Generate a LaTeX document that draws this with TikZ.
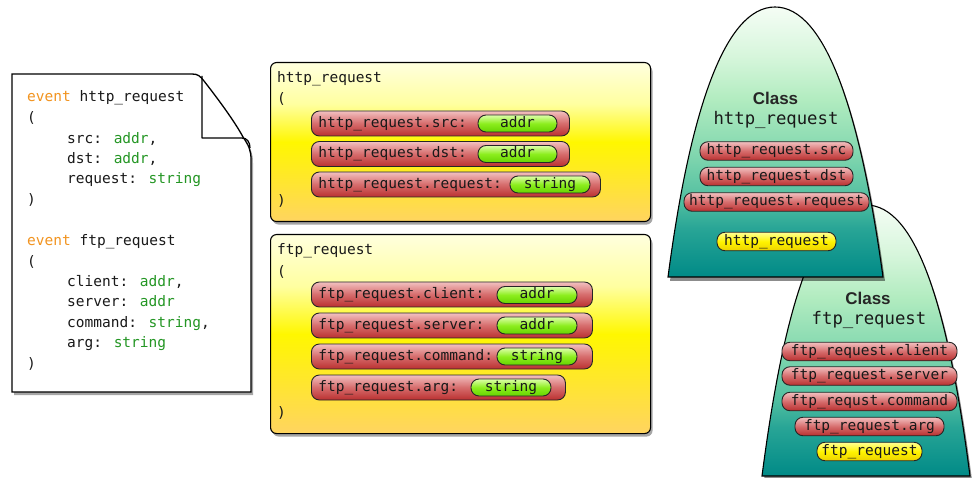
\documentclass[tikz,border=0pt]{standalone}
\usepackage{fontspec}
\setmainfont{Liberation Sans}
\newfontfamily\codefont{DejaVu Sans Mono}
\usetikzlibrary{shadows}

\definecolor{kwcol}{RGB}{242,148,32}
\definecolor{tycol}{RGB}{36,150,36}
\definecolor{inkcol}{RGB}{25,25,25}
% yellow event boxes
\definecolor{ybot}{RGB}{255,212,96}
\definecolor{ymid}{RGB}{255,247,0}
\definecolor{yhi}{RGB}{255,255,160}
\definecolor{ytop}{RGB}{255,255,222}
% red attribute pills
\definecolor{rbot}{RGB}{186,48,48}
\definecolor{rmid}{RGB}{214,108,108}
\definecolor{rtop}{RGB}{242,192,192}
% green type pills
\definecolor{gbot}{RGB}{102,212,0}
\definecolor{gmid}{RGB}{140,238,30}
\definecolor{gtop}{RGB}{222,255,170}
% small yellow pills
\definecolor{sybot}{RGB}{236,210,0}
\definecolor{symid}{RGB}{255,244,0}
\definecolor{sytop}{RGB}{255,255,150}
% class domes
\definecolor{dbot}{RGB}{0,138,135}
\definecolor{dlow1}{RGB}{40,165,150}
\definecolor{dlow2}{RGB}{80,190,160}
\definecolor{dmid1}{RGB}{130,215,175}
\definecolor{dmid2}{RGB}{178,236,192}
\definecolor{dhi}{RGB}{215,246,220}
\definecolor{dtop}{RGB}{245,253,245}

\pgfdeclareverticalshading{yellowbox}{100bp}{color(0bp)=(ybot); color(25bp)=(ybot); color(50bp)=(ymid); color(62bp)=(yhi); color(75bp)=(ytop); color(100bp)=(ytop)}
\pgfdeclareverticalshading{redpill}{100bp}{color(0bp)=(rbot); color(25bp)=(rbot); color(50bp)=(rmid); color(75bp)=(rtop); color(100bp)=(rtop)}
\pgfdeclareverticalshading{greenpill}{100bp}{color(0bp)=(gbot); color(25bp)=(gbot); color(50bp)=(gmid); color(75bp)=(gtop); color(100bp)=(gtop)}
\pgfdeclareverticalshading{yellowpill}{100bp}{color(0bp)=(sybot); color(25bp)=(sybot); color(50bp)=(symid); color(75bp)=(sytop); color(100bp)=(sytop)}
\pgfdeclareverticalshading{dome}{100bp}{color(0bp)=(dbot); color(25bp)=(dbot); color(34bp)=(dlow1); color(39bp)=(dlow2); color(48bp)=(dmid1); color(58bp)=(dmid2); color(66bp)=(dhi); color(75bp)=(dtop); color(100bp)=(dtop)}

\newcommand\evkw[1]{\textcolor{kwcol}{#1}}
\newcommand\tyname[1]{\textcolor{tycol}{#1}}

\tikzset{
  softshadow/.style={drop shadow={shadow xshift=2pt, shadow yshift=-3pt, fill=black, opacity=0.35}},
  code/.style={font=\codefont\fontsize{14.5}{17}\selectfont, text=inkcol, inner sep=0pt,
    anchor=west, text height=11pt, text depth=3.5pt},
  ybox/.style={draw=black, line width=1.1pt, rounded corners=6pt, shade, shading=yellowbox,
    softshadow, anchor=north west},
  redpill/.style={code, draw=black!85, line width=0.9pt, rounded corners=8pt, shade, shading=redpill,
    minimum height=25pt, inner xsep=7pt, inner ysep=0pt, align=left},
  greenpill/.style={code, anchor=center, draw=black!85, line width=0.9pt, rounded corners=8pt,
    shade, shading=greenpill, minimum height=17pt, inner sep=0pt},
  cpill/.style={code, anchor=center, draw=black!85, line width=0.9pt, rounded corners=8pt,
    shade, shading=redpill, minimum height=18.5pt, inner xsep=2pt, inner ysep=0pt,
    text height=10.5pt, text depth=3pt},
  ypill/.style={cpill, shading=yellowpill},
  classkw/.style={font=\bfseries\fontsize{17}{20}\selectfont, text=black!85, inner sep=0pt},
  classname/.style={font=\codefont\fontsize{17.3}{20}\selectfont, text=inkcol, inner sep=0pt},
  domeshape/.style={draw=black, line width=1.1pt, shade, shading=dome,
    drop shadow={shadow xshift=2pt, shadow yshift=-4pt, fill=black, opacity=0.45}},
}

\begin{document}
\begin{tikzpicture}[x=1pt, y=-1pt]
\useasboundingbox (0,0) rectangle (972,478);

% ---------- source file with a folded corner ----------
\path[fill=white, draw=black, line width=1.3pt, softshadow]
  (12,74) -- (192,74) .. controls (198,74) and (200,76) .. (204,81)
  .. controls (222,104) and (236,124) .. (243,137)
  .. controls (249,146) and (251,150) .. (251,160)
  -- (251,392) -- (12,392) -- cycle;
\draw[line width=1.3pt, line join=round]
  (202,76) -- (202,138) -- (242,138) .. controls (247,138) and (250,142) .. (250,148);

\foreach \x/\y/\t [count=\n] in {
  27/98/{\evkw{event} http\_request},
  27/119/{(},
  67/139.5/{src: \tyname{addr},},
  67/159.5/{dst: \tyname{addr},},
  67/180/{request: \tyname{string}},
  27/200.5/{)},
  27/242/{\evkw{event} ftp\_request},
  27/262.5/{(},
  67/283/{client: \tyname{addr},},
  67/303/{server: \tyname{addr}},
  67/323.5/{command: \tyname{string},},
  67/344/{arg: \tyname{string}},
  27/364.5/{)}}
  \node[code] (doc-\n) at (\x,\y) {\t};

% ---------- event box: http_request ----------
\node[ybox, minimum width=380pt, minimum height=159pt] (box1) at (270,62) {};
\node[code] (b1-title) at (277,79) {http\_request};
\node[code] (b1-open)  at (277,100) {(};
\node[code] (b1-close) at (277,202) {)};

\node[redpill, text width=244pt] (b1-src) at (311,123.5) {http\_request.src:};
\node[greenpill, minimum width=79pt] (b1-src-t) at (517.5,123.5) {addr};
\node[redpill, text width=244pt] (b1-dst) at (311,154) {http\_request.dst:};
\node[greenpill, minimum width=79pt] (b1-dst-t) at (517.5,154) {addr};
\node[redpill, text width=275pt] (b1-req) at (311,184.5) {http\_request.request:};
\node[greenpill, minimum width=80pt] (b1-req-t) at (550,184.5) {string};

% ---------- event box: ftp_request ----------
\node[ybox, minimum width=380pt, minimum height=199pt] (box2) at (270,234) {};
\node[code] (b2-title) at (277,250.5) {ftp\_request};
\node[code] (b2-open)  at (277,273) {(};
\node[code] (b2-close) at (277,414) {)};

\node[redpill, text width=267pt] (b2-cli) at (311,294.5) {ftp\_request.client:};
\node[greenpill, minimum width=80pt] (b2-cli-t) at (537,295) {addr};
\node[redpill, text width=267pt] (b2-srv) at (311,325.5) {ftp\_request.server:};
\node[greenpill, minimum width=80pt] (b2-srv-t) at (537,325.5) {addr};
\node[redpill, text width=267pt] (b2-cmd) at (311,356.5) {ftp\_request.command:};
\node[greenpill, minimum width=80pt] (b2-cmd-t) at (537,356.5) {string};
\node[redpill, text width=240pt] (b2-arg) at (311,387.5) {ftp\_request.arg:};
\node[greenpill, minimum width=80pt] (b2-arg-t) at (511,387.5) {string};

% ---------- class dome: ftp_request (behind) ----------
\path[domeshape]
  (762,476) .. controls (784,306) and (816,205) .. (866,205)
  .. controls (916,205) and (948,306) .. (970,476) -- cycle;
\node[classkw]   (c2-kw)   at (868,298) {Class};
\node[classname] (c2-name) at (869,320) {ftp\_request};
\node[cpill, minimum width=175pt] (c2-cli) at (869.5,351.5) {ftp\_request.client};
\node[cpill, minimum width=175pt] (c2-srv) at (869.5,376)   {ftp\_request.server};
\node[cpill, minimum width=175pt] (c2-cmd) at (869.5,401.5) {ftp\_requst.command};
\node[cpill, minimum width=149pt] (c2-arg) at (869.5,426.5) {ftp\_request.arg};
\node[ypill, minimum width=105pt] (c2-ev)  at (869.5,451.5) {ftp\_request};

% ---------- class dome: http_request (front) ----------
\path[domeshape]
  (668,277) .. controls (690,110) and (725,7) .. (775,7)
  .. controls (825,7) and (860,110) .. (883,277) -- cycle;
\node[classkw]   (c1-kw)   at (775.5,98) {Class};
\node[classname] (c1-name) at (776,120) {http\_request};
\node[cpill, minimum width=153pt] (c1-src) at (776.5,151)   {http\_request.src};
\node[cpill, minimum width=153pt] (c1-dst) at (776.5,176.5) {http\_request.dst};
\node[cpill, minimum width=185pt] (c1-req) at (776.5,202)   {http\_request.request};
\node[ypill, minimum width=119pt] (c1-ev)  at (776.5,241.5) {http\_request};
\end{tikzpicture}
\end{document}
